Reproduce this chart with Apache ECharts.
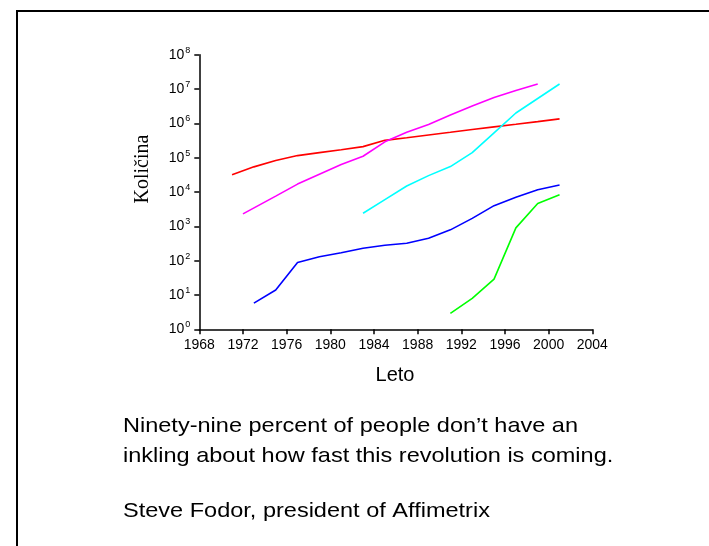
<!DOCTYPE html>
<html>
<head>
<meta charset="utf-8">
<script src="https://cdn.jsdelivr.net/npm/echarts@6/dist/echarts.min.js"></script>
<style>
html,body{margin:0;padding:0;background:#fff;}
#chart{width:709px;height:546px;}
</style>
</head>
<body>
<div id="chart"></div>
<script>
// Data
const redYears = [1971,1973,1975,1977,1979,1981,1983,1985,1987,1989,1991,1993,1995,1997,1999,2001];
const redValues = [3.2e4,5.4e4,8.3e4,1.15e5,1.4e5,1.7e5,2.1e5,3.2e5,3.8e5,4.6e5,5.5e5,6.6e5,7.9e5,9.4e5,1.12e6,1.35e6];

const magentaYears = [1972,1975,1977,1979,1981,1983,1985,1987,1989,1991,1993,1995,1997,1999];
const magentaValues = [2.3e3,7.6e3,1.7e4,3.3e4,6.3e4,1.1e5,2.9e5,5.5e5,9.3e5,1.75e6,3.2e6,5.7e6,9.1e6,1.4e7];

const cyanYears = [1983,1985,1987,1989,1991,1993,1995,1997,1999,2001];
const cyanValues = [2.4e3,6e3,1.5e4,3e4,5.5e4,1.4e5,5.3e5,2e6,5.3e6,1.4e7];

const blueYears = [1973,1975,1977,1979,1981,1983,1985,1987,1989,1991,1993,1995,1997,1999,2001];
const blueValues = [5.8,14,88,130,170,230,280,320,450,790,1700,4000,7000,11700,16000];

const greenYears = [1991,1993,1995,1997,1999,2001];
const greenValues = [2.9,8,29,900,4600,8300];

const xTicks = [1968,1972,1976,1980,1984,1988,1992,1996,2000,2004];
const yTickExponents = [0,1,2,3,4,5,6,7,8];

const yAxisName = 'Količina';
const xAxisName = 'Leto';
const quoteLines = ['Ninety-nine percent of people don\u2019t have an', 'inkling about how fast this revolution is coming.'];
const author = 'Steve Fodor, president of Affimetrix';

function pairs(xs, ys){ return xs.map((x,i)=>[x, ys[i]]); }

const chart = echarts.init(document.getElementById('chart'), null, {renderer:'canvas'});
const sans = '"Liberation Sans", Arial, sans-serif';
const serif = '"Liberation Serif", "Times New Roman", serif';

function lineSeries(name, xs, ys, color){
  return {
    name: name, type: 'line', data: pairs(xs, ys), showSymbol: false, symbol: 'none',
    lineStyle: {color: color, width: 1.6}, itemStyle:{color: color}, animation: false, z: 3
  };
}

chart.setOption({
  backgroundColor: '#ffffff',
  animation: false,
  grid: {left: 199.3, right: 116.7, top: 54.7, bottom: 216.7, containLabel: false},
  xAxis: {
    type: 'value', min: xTicks[0], max: xTicks[xTicks.length-1], interval: 4,
    axisLine: {show: true, onZero: false, lineStyle: {color: '#000', width: 1.5}},
    axisTick: {show: true, length: 5, lineStyle: {color: '#000', width: 1.5}},
    splitLine: {show: false},
    axisLabel: {color: '#000', fontFamily: sans, fontSize: 14, margin: 9, formatter: v => String(v)}
  },
  yAxis: {
    type: 'log', logBase: 10, min: Math.pow(10, yTickExponents[0]), max: Math.pow(10, yTickExponents[yTickExponents.length-1]),
    axisLine: {show: true, lineStyle: {color: '#000', width: 1.5}},
    axisTick: {show: true, length: 5, lineStyle: {color: '#000', width: 1.5}},
    splitLine: {show: false},
    minorTick: {show: false},
    axisLabel: {
      color: '#000', margin: 9,
      formatter: function(v){ const e = Math.round(Math.log10(v)); return '{b|10}{s|' + e + '}'; },
      rich: {
        b: {fontFamily: sans, fontSize: 14, color: '#000'},
        s: {fontFamily: sans, fontSize: 9, color: '#000', padding: [0,0,9,1]}
      }
    }
  },
  series: [
    lineSeries('red', redYears, redValues, '#ff0000'),
    lineSeries('magenta', magentaYears, magentaValues, '#ff00ff'),
    lineSeries('cyan', cyanYears, cyanValues, '#00ffff'),
    lineSeries('blue', blueYears, blueValues, '#0000ff'),
    lineSeries('green', greenYears, greenValues, '#00ff00')
  ],
  graphic: [
    {type: 'rect', shape: {x: 17, y: 11, width: 800, height: 700}, style: {fill: 'none', stroke: '#000', lineWidth: 2}, z: 0, silent: true},
    {type: 'text', x: 143, y: 169, rotation: Math.PI/2,
      style: {text: yAxisName, font: '20px ' + serif, fill: '#000', textAlign: 'center', textVerticalAlign: 'middle'}},
    {type: 'text', x: 395, y: 375,
      style: {text: xAxisName, font: '20px ' + sans, fill: '#000', textAlign: 'center', textVerticalAlign: 'middle'}},
    {type: 'text', x: 123, y: 426, scaleX: 1.12,
      style: {text: quoteLines[0], font: '21px ' + sans, fill: '#000', textAlign: 'left', textVerticalAlign: 'middle'}},
    {type: 'text', x: 123, y: 456, scaleX: 1.12,
      style: {text: quoteLines[1], font: '21px ' + sans, fill: '#000', textAlign: 'left', textVerticalAlign: 'middle'}},
    {type: 'text', x: 123, y: 511, scaleX: 1.12,
      style: {text: author, font: '21px ' + sans, fill: '#000', textAlign: 'left', textVerticalAlign: 'middle'}}
  ]
});
</script>
</body>
</html>
